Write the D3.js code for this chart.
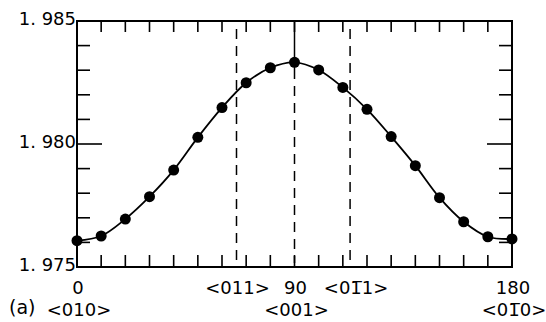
<!DOCTYPE html>
<html>
<head>
<meta charset="utf-8">
<script src="https://cdn.jsdelivr.net/npm/d3@7"></script>
<style>
  body { margin: 0; background: #fff; }
  text { font-family: "DejaVu Sans", sans-serif; font-size: 18px; fill: #000; }
</style>
</head>
<body>
<div id="chart"></div>
<script>
// DATA
// rotation angle (deg) and measured g value
var angles = [0, 10, 20, 30, 40, 50, 60, 70, 80, 90, 100, 110, 120, 130, 140, 150, 160, 170, 180];
var gValues = [1.97607, 1.97626, 1.97695, 1.97786, 1.97894, 1.98027, 1.98148, 1.98249, 1.98310, 1.98332,
               1.98301, 1.98230, 1.98141, 1.98030, 1.97912, 1.97782, 1.97684, 1.97623, 1.97614];

// axis ticks
var xTicks = [0, 10, 20, 30, 40, 50, 60, 70, 80, 90, 100, 110, 120, 130, 140, 150, 160, 170, 180];
var yTicks = [1.975, 1.976, 1.977, 1.978, 1.979, 1.980, 1.981, 1.982, 1.983, 1.984, 1.985];
var yLabels = [1.975, 1.980, 1.985];

// crystal directions marked with vertical lines
var dirAngles = [66, 90, 113];
var xLabels = [
    {a: 0, text: "0", row: 0},
    {a: 66, text: "<011>", row: 0},
    {a: 90, text: "90", row: 0},
    {a: 113, text: "<01\u03051>", row: 0},
    {a: 180, text: "180", row: 0},
    {a: 0, text: "<010>", row: 1},
    {a: 90, text: "<001>", row: 1},
    {a: 180, text: "<01\u03050>", row: 1}
];

var width = 546, height = 322;
var margin = {top: 21, right: 34, bottom: 55, left: 77};

var svg = d3.select("#chart").append("svg")
    .attr("width", width)
    .attr("height", height);

var x = d3.scaleLinear().domain([0, 180]).range([margin.left, width - margin.right]);
var y = d3.scaleLinear().domain([1.975, 1.985]).range([height - margin.bottom, margin.top]);

var x0 = x(0), x1 = x(180), y0 = y(1.975), y1 = y(1.985);

// ticks on the frame, all pointing inward
var tickG = svg.append("g").attr("stroke", "#000").attr("stroke-width", 1.6);
xTicks.slice(1, -1).forEach(function(t) {
    tickG.append("line").attr("x1", x(t)).attr("x2", x(t)).attr("y1", y1).attr("y2", y1 + 11);
    tickG.append("line").attr("x1", x(t)).attr("x2", x(t)).attr("y1", y0).attr("y2", y0 - 12);
});
yTicks.slice(1, -1).forEach(function(t) {
    var len = (t === 1.980) ? 25 : 13;
    tickG.append("line").attr("x1", x0).attr("x2", x0 + len).attr("y1", y(t)).attr("y2", y(t));
    tickG.append("line").attr("x1", x1).attr("x2", x1 - len).attr("y1", y(t)).attr("y2", y(t));
});

// dashed direction lines
dirAngles.forEach(function(a) {
    svg.append("line")
        .attr("x1", x(a)).attr("x2", x(a))
        .attr("y1", a === 90 ? y1 + 48 : y1 + 8).attr("y2", y0 - 4)
        .attr("stroke", "#000").attr("stroke-width", 1.5)
        .attr("stroke-dasharray", "10,7");
});
// solid piece at 90 from the top frame down past the peak
svg.append("line")
    .attr("x1", x(90)).attr("x2", x(90))
    .attr("y1", y1).attr("y2", y1 + 48)
    .attr("stroke", "#000").attr("stroke-width", 1.5);

// frame
svg.append("rect")
    .attr("x", x0).attr("y", y1)
    .attr("width", x1 - x0).attr("height", y0 - y1)
    .attr("fill", "none").attr("stroke", "#000").attr("stroke-width", 2);

// curve
var pts = angles.map(function(a, i) { return [a, gValues[i]]; });
var line = d3.line()
    .x(function(d) { return x(d[0]); })
    .y(function(d) { return y(d[1]); })
    .curve(d3.curveCatmullRom);

svg.append("path")
    .datum(pts)
    .attr("d", line)
    .attr("fill", "none")
    .attr("stroke", "#000")
    .attr("stroke-width", 1.8);

svg.selectAll(".dot")
    .data(pts)
  .enter().append("circle")
    .attr("class", "dot")
    .attr("cx", function(d) { return x(d[0]); })
    .attr("cy", function(d) { return y(d[1]); })
    .attr("r", 5.5)
    .attr("fill", "#000");

// y labels
svg.selectAll(".ylab")
    .data(yLabels)
  .enter().append("text")
    .attr("class", "ylab")
    .attr("x", x0 - 1)
    .attr("y", function(d) { return y(d) - 2; })
    .attr("dy", "0.35em")
    .attr("text-anchor", "end")
    .text(function(d) { return d3.format(".3f")(d).replace(".", ". "); });

// x labels
svg.selectAll(".xlab")
    .data(xLabels)
  .enter().append("text")
    .attr("class", "xlab")
    .attr("x", function(d) { return x(d.a) + (d.row === 1 ? 2 : (d.a === 113 ? 6 : 1)); })
    .attr("y", function(d) { return d.row === 0 ? 294 : 316; })
    .attr("text-anchor", "middle")
    .text(function(d) { return d.text; });

svg.append("text")
    .attr("x", 9)
    .attr("y", 314)
    .style("font-size", "19px")
    .text("(a)");
</script>
</body>
</html>
